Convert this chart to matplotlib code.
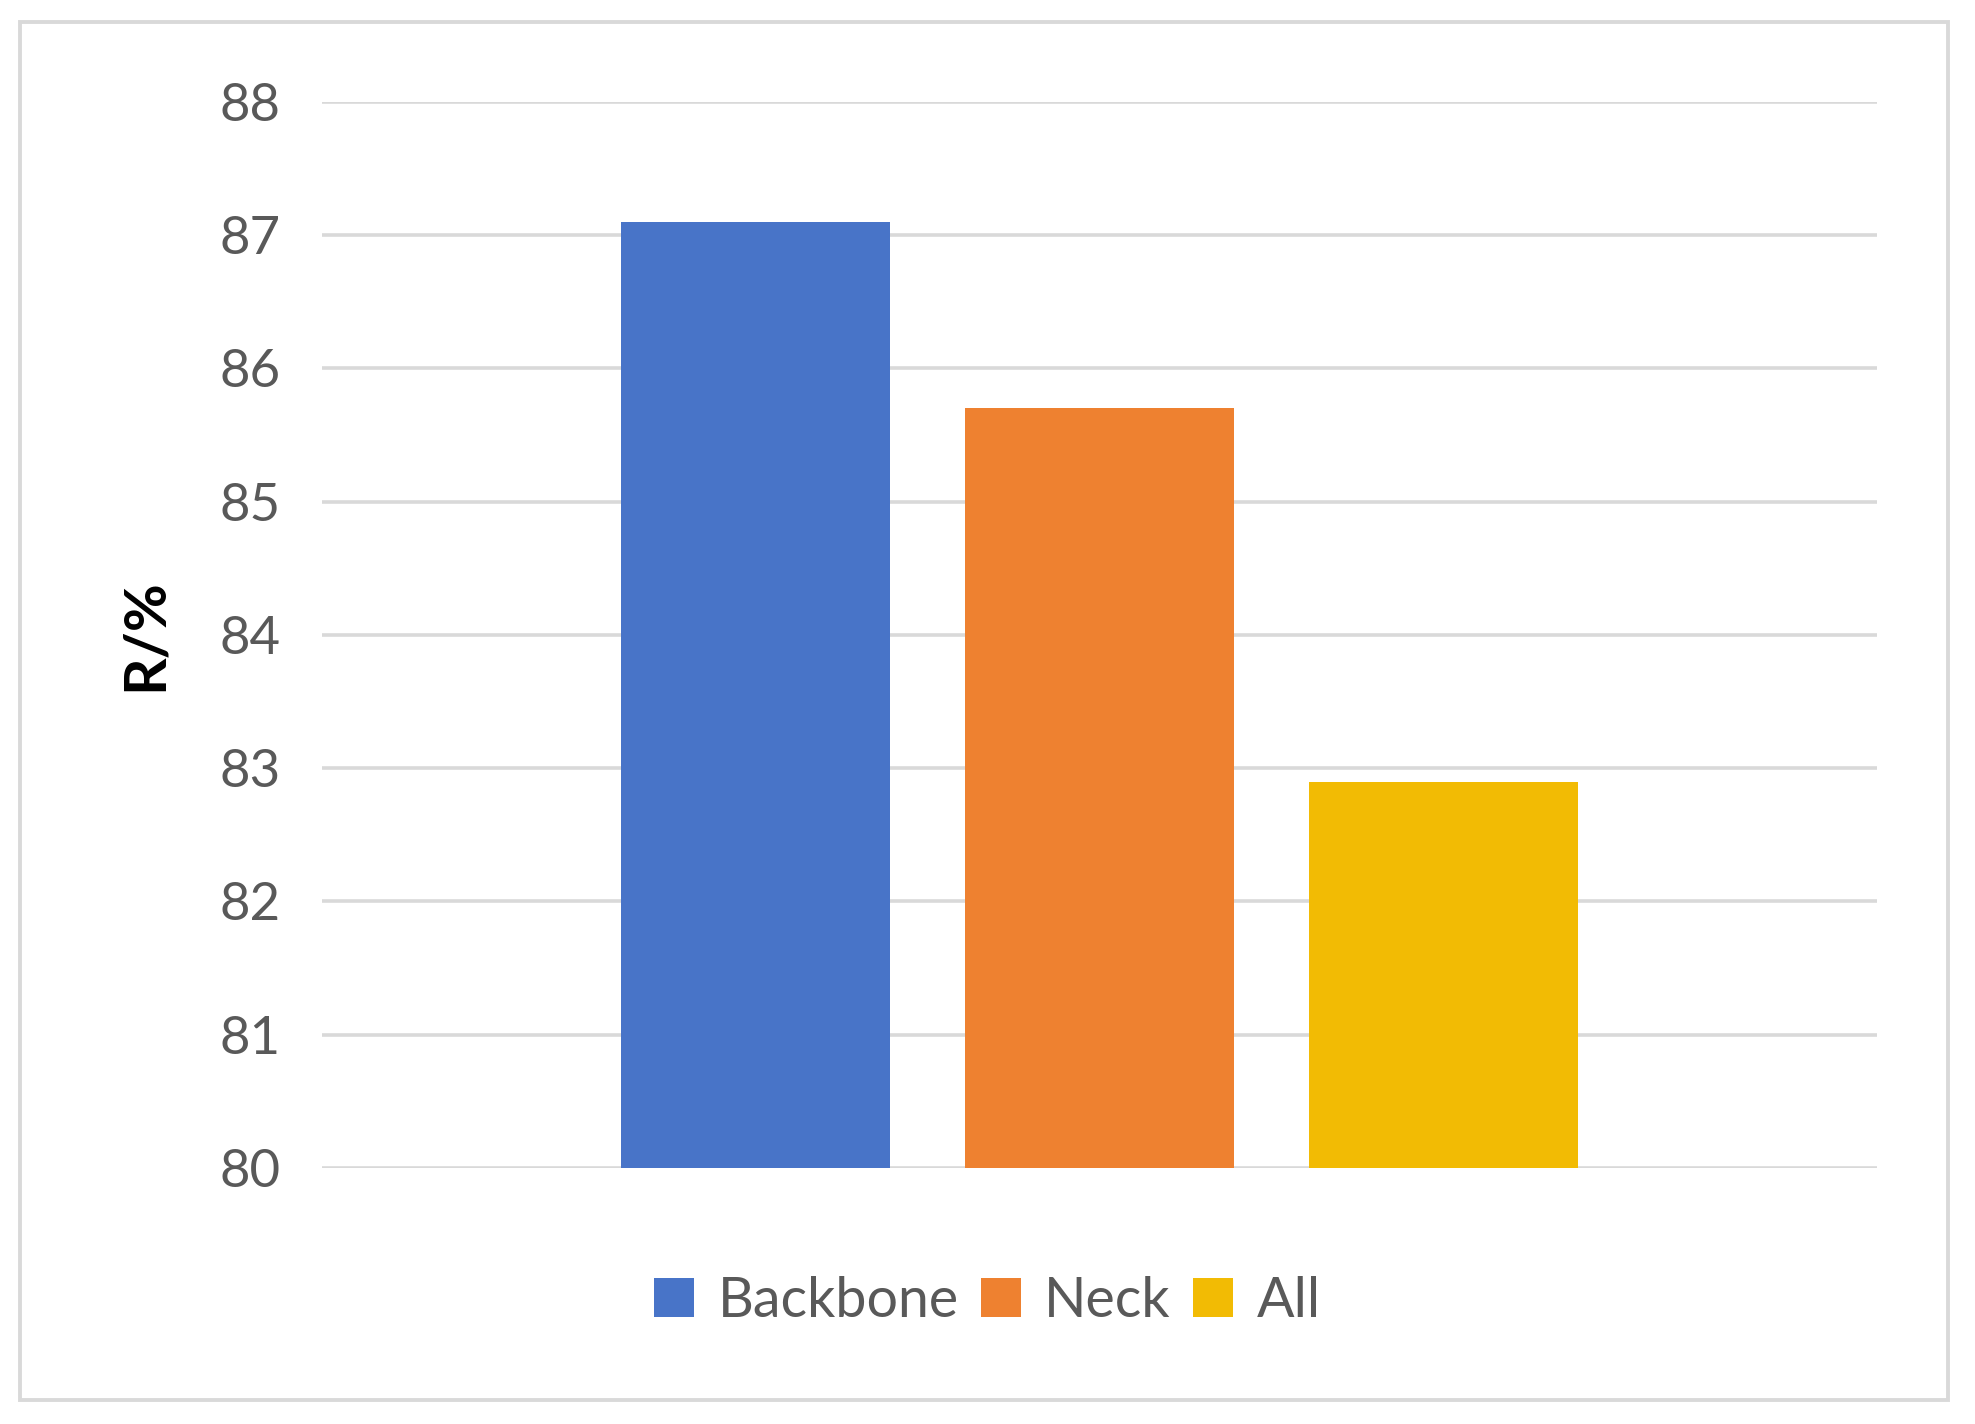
import matplotlib
matplotlib.use('Agg')
import matplotlib.pyplot as plt
from matplotlib.patches import Rectangle, Patch

plt.rcParams['font.family'] = ['Lato', 'DejaVu Sans']

# data
series = ['Backbone', 'Neck', 'All']
recall = [87.1, 85.7, 82.9]
colors = ['#4874C8', '#EE8130', '#F2BB04']
yticks = [80, 81, 82, 83, 84, 85, 86, 87, 88]

grey_text = '#595959'
grid_grey = '#D9D9D9'

fig = plt.figure(figsize=(19.75, 14.24), dpi=100)
ax = fig.add_axes([0.1630, 0.1798, 0.7873, 0.7486])

xs = list(range(len(series)))
ax.bar(xs, [v - yticks[0] for v in recall], bottom=yticks[0], width=0.783,
       color=colors, zorder=3)

ax.set_ylim(yticks[0], yticks[-1])
ax.set_xlim(-1.26, 3.26)
ax.set_yticks(yticks)
ax.set_yticklabels([str(t) for t in yticks])
ax.set_xticks([])
ax.tick_params(axis='y', length=0, pad=30, labelsize=38, labelcolor=grey_text)
ax.yaxis.grid(True, color=grid_grey, linewidth=2.6, zorder=0)
ax.set_axisbelow(True)
for s in ax.spines.values():
    s.set_visible(False)

ax.set_ylabel('R/%', fontsize=42, fontweight='bold', color='black', labelpad=34)

handles = [Patch(facecolor=c, edgecolor='none') for c in colors]
fig.legend(handles, series, loc='center', bbox_to_anchor=(0.5, 0.086),
           ncol=3, frameon=False, fontsize=40, labelcolor=grey_text,
           handlelength=0.72, handleheight=0.72, handletextpad=0.42,
           columnspacing=0.4)

# outer chart border
fig.patches.append(Rectangle((20 / 1975, 1 - 1400 / 1424),
                             (1948 - 20) / 1975, (1400 - 22) / 1424,
                             transform=fig.transFigure, fill=False,
                             edgecolor=grid_grey, linewidth=2.8))

fig.savefig('out.png', dpi=100, facecolor='white')
